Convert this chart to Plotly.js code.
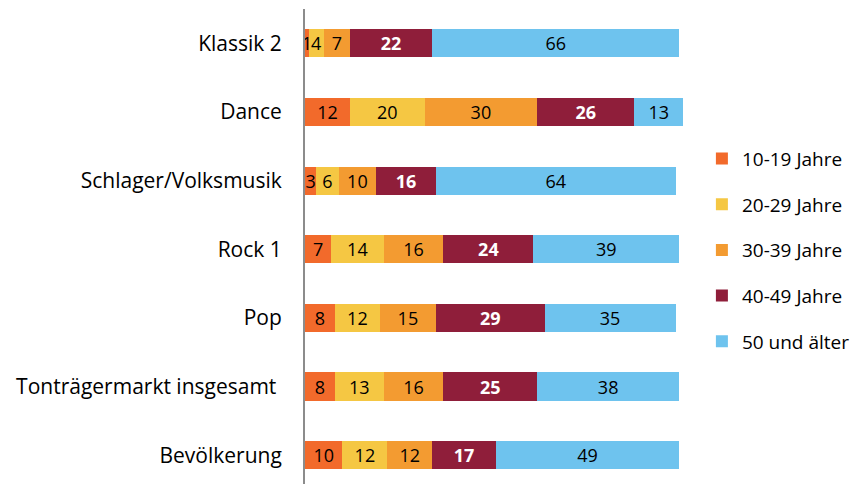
<!DOCTYPE html>
<html>
<head>
<meta charset="utf-8">
<script src="https://cdn.plot.ly/plotly-3.0.1.min.js"></script>
<style>html,body{margin:0;padding:0;background:#fff;}#chart{width:861px;height:484px;}</style>
</head>
<body>
<div id="chart"></div>
<script>
const categories = ["Klassik 2", "Dance", "Schlager/Volksmusik", "Rock 1", "Pop", "Tonträgermarkt insgesamt ", "Bevölkerung"];
const seriesNames = ["10-19 Jahre", "20-29 Jahre", "30-39 Jahre", "40-49 Jahre", "50 und älter"];
const age10_19 = [1, 12, 3, 7, 8, 8, 10];
const age20_29 = [4, 20, 6, 14, 12, 13, 12];
const age30_39 = [7, 30, 10, 16, 15, 16, 12];
const age40_49 = [22, 26, 16, 24, 29, 25, 17];
const age50plus = [66, 13, 64, 39, 35, 38, 49];
const seriesValues = [age10_19, age20_29, age30_39, age40_49, age50plus];
const colors = ["#F26A2B", "#F5C743", "#F39B31", "#8F1E3A", "#6EC3EE"];
const textColors = ["#000", "#000", "#000", "#fff", "#000"];
const FONT = "'Open Sans', sans-serif";

const traces = seriesValues.map((vals, i) => ({
  type: "bar",
  orientation: "h",
  name: seriesNames[i],
  legendgroup: "g" + i,
  y: categories,
  x: vals,
  text: vals.map(v => i === 3 ? "<b>" + v + "</b>" : String(v)),
  textposition: "inside",
  insidetextanchor: "middle",
  textangle: 0,
  constraintext: "none",
  cliponaxis: false,
  textfont: {family: FONT, size: 18, color: textColors[i]},
  marker: {color: colors[i], line: {width: 0}},
  hoverinfo: "x+name"
}));

const layout = {
  width: 861, height: 484,
  barmode: "stack",
  bargap: 0.59,
  margin: {l: 305, r: 178, t: 9, b: 0},
  paper_bgcolor: "#fff", plot_bgcolor: "#fff",
  font: {family: FONT, size: 18, color: "#000"},
  uniformtext: {mode: "show", minsize: 18},
  xaxis: {range: [0, 101], visible: false, fixedrange: true},
  yaxis: {
    type: "category",
    range: [6.42, -0.5],
    showline: true, linecolor: "#8c8c8c", linewidth: 2,
    ticks: "", showgrid: false, zeroline: false,
    ticklabelstandoff: 17,
    tickfont: {family: FONT, size: 21, color: "#000"}
  },
  showlegend: true,
  legend: {
    x: 1.05, xanchor: "left", y: 0.725, yanchor: "top",
    orientation: "v",
    traceorder: "grouped",
    tracegroupgap: 18,
    font: {family: FONT, size: 19, color: "#000"},
    itemwidth: 30
  }
};

Plotly.newPlot("chart", traces, layout, {displayModeBar: false, staticPlot: true});
</script>
</body>
</html>
